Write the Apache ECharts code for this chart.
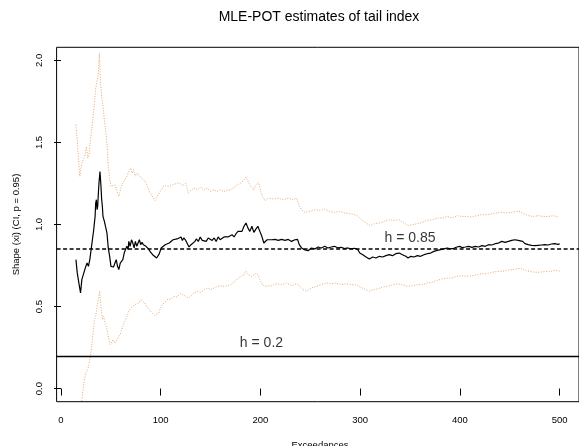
<!DOCTYPE html>
<html>
<head>
<meta charset="utf-8">
<script src="https://cdn.jsdelivr.net/npm/echarts@6/dist/echarts.min.js"></script>
<style>html,body{margin:0;padding:0;background:#fff;}#c{width:579px;height:446px;}</style>
</head>
<body>
<div id="c"></div>
<script>
// ---- data ----
const estX = [15,16.3,18.2,19.6,20.9,22.9,24.9,26.2,27.5,28.9,30.2,31.5,32.8,34.2,34.8,35.5,36.2,36.8,37.5,38.1,39.1,40.1,40.8,41.5,42.1,43.5,44.8,46.1,47.4,48.8,50.1,51.4,52.7,54.1,55.4,56.7,58.0,59.4,60.7,62.0,63.4,64.7,66.0,67.3,68.0,69.3,70.7,72.0,73.3,74.6,76.0,77.3,78.6,79.9,81.3,82.6,83.9,85.2,86.6,87.9,89.2,90.6,91.9,93.9,95.9,97.2,98.5,100.5,102.5,104.5,106.5,108.5,110.4,112.4,114.4,116.4,118.4,120.4,121.7,123.1,125.1,127.1,128.4,130.4,132.3,134.3,135.7,137.7,139.6,141.6,143.6,145.6,147.6,149.6,151.6,153.6,155.6,157.6,159.6,161.6,163.5,165.5,167.5,169.5,171.5,173.5,175.5,177.5,179.5,181.5,183.5,185.5,187.5,189.4,191.4,193.4,195.4,197.4,199.4,201.4,203.4,204.7,206.7,208.0,211.3,214.6,217.9,221.2,224.6,227.9,231.2,234.5,237.2,238.9,241.2,243.8,247.8,251.1,254.4,257.8,261.1,264.4,267.7,271.0,274.3,277.7,281.0,284.3,287.6,290.9,294.3,297.6,299.6,302.6,305.9,309.2,312.5,315.8,319.2,322.5,325.8,329.1,332.4,335.7,339.1,342.4,345.7,348.0,350.7,354.0,357.3,360.6,364.0,367.3,370.6,373.9,377.2,380.6,383.9,387.2,390.5,393.8,397.1,399.8,402.1,405.5,408.8,412.1,415.4,418.7,422.1,425.4,428.7,432.0,435.3,438.6,442.0,445.3,448.6,451.9,455.2,458.5,460.2,462.9,465.2,468.5,471.8,475.1,478.5,481.8,485.1,488.4,491.7,495.0,498.4,500];
const estY = [0.786,0.705,0.633,0.583,0.664,0.705,0.745,0.765,0.745,0.786,0.847,0.907,0.968,1.049,1.131,1.151,1.090,1.110,1.192,1.253,1.323,1.232,1.151,1.110,1.049,1.019,1.009,0.948,0.857,0.806,0.745,0.755,0.741,0.765,0.786,0.745,0.725,0.765,0.775,0.786,0.826,0.847,0.867,0.847,0.897,0.867,0.907,0.887,0.857,0.897,0.867,0.887,0.907,0.877,0.891,0.877,0.887,0.867,0.867,0.851,0.836,0.826,0.816,0.806,0.796,0.806,0.821,0.857,0.867,0.877,0.871,0.887,0.897,0.907,0.897,0.912,0.903,0.924,0.903,0.918,0.903,0.907,0.863,0.877,0.887,0.897,0.912,0.897,0.924,0.903,0.912,0.897,0.918,0.924,0.903,0.918,0.897,0.924,0.907,0.916,0.924,0.918,0.924,0.918,0.938,0.924,0.944,0.958,0.968,0.958,0.989,1.009,0.978,0.958,0.989,0.952,0.972,0.989,0.958,0.928,0.887,0.883,0.907,0.903,0.907,0.909,0.903,0.909,0.903,0.909,0.897,0.907,0.909,0.877,0.857,0.847,0.840,0.857,0.851,0.863,0.857,0.867,0.857,0.863,0.867,0.857,0.861,0.853,0.857,0.851,0.855,0.847,0.826,0.816,0.802,0.790,0.802,0.796,0.806,0.802,0.810,0.816,0.810,0.822,0.826,0.816,0.806,0.796,0.806,0.802,0.810,0.806,0.816,0.822,0.826,0.836,0.842,0.847,0.851,0.857,0.851,0.855,0.863,0.867,0.859,0.863,0.867,0.861,0.867,0.863,0.871,0.867,0.877,0.875,0.883,0.887,0.897,0.891,0.897,0.903,0.907,0.903,0.907,0.897,0.883,0.877,0.873,0.871,0.873,0.875,0.877,0.875,0.881,0.883,0.879,0.882];

const upX = [15,16.3,17.6,18.9,20.2,22.2,24.2,25.5,26.9,28.2,29.5,30.8,32.2,33.5,34.8,36.2,37.5,38.5,39.5,40.8,42.1,43.5,44.8,46.1,47.4,48.8,50.1,52.1,54.1,56.1,58.0,60.0,62.0,64.0,66.0,68.0,70.0,71.3,72.6,74.6,76.6,78.6,80.6,82.6,84.6,86.6,88.6,90.6,92.5,94.5,96.5,98.5,100.5,102.5,105.1,108.5,111.8,115.1,118.4,121.7,125.1,127.7,130.4,133.3,136.7,140.0,143.3,146.6,149.9,153.3,156.6,159.9,163.2,166.5,169.9,173.2,176.5,179.8,183.1,185.5,188.1,190.7,193.1,195.4,198.0,200.0,202.0,204.6,208.0,213.0,217.9,222.9,227.9,232.8,236.2,238.5,241.2,244.5,249.4,254.4,259.4,264.4,269.4,274.3,279.3,284.3,289.3,294.3,298.2,301.5,305.9,310.2,314.2,319.2,324.2,329.1,334.1,339.1,344.1,348.0,352.4,357.3,362.3,367.3,372.3,377.2,382.2,387.2,392.2,397.1,402.1,407.1,412.1,417.1,422.1,427.1,432.0,437.0,442.0,447.0,451.9,456.9,460.2,463.5,468.5,473.5,478.5,483.4,488.4,493.4,498.4];
const upY = [1.608,1.516,1.395,1.293,1.354,1.395,1.425,1.476,1.405,1.425,1.516,1.577,1.659,1.740,1.831,1.821,1.923,2.044,1.882,1.780,1.719,1.638,1.577,1.496,1.354,1.273,1.232,1.232,1.242,1.202,1.171,1.222,1.253,1.273,1.293,1.323,1.344,1.313,1.334,1.293,1.313,1.303,1.283,1.293,1.263,1.232,1.202,1.181,1.161,1.147,1.171,1.192,1.212,1.232,1.236,1.232,1.242,1.248,1.256,1.236,1.252,1.192,1.208,1.222,1.212,1.228,1.208,1.222,1.202,1.212,1.202,1.212,1.202,1.208,1.212,1.222,1.242,1.252,1.269,1.289,1.256,1.232,1.212,1.242,1.256,1.212,1.171,1.146,1.161,1.155,1.161,1.151,1.161,1.151,1.161,1.121,1.090,1.074,1.080,1.090,1.086,1.094,1.080,1.074,1.080,1.070,1.066,1.060,1.049,1.029,1.009,0.993,1.005,1.009,1.019,1.029,1.025,1.029,1.009,0.993,0.999,1.005,1.013,1.025,1.029,1.039,1.039,1.049,1.039,1.054,1.049,1.049,1.045,1.054,1.060,1.060,1.066,1.070,1.074,1.070,1.074,1.080,1.080,1.066,1.054,1.049,1.054,1.049,1.049,1.054,1.045];

const loX = [15,17.6,19.6,20.9,22.9,24.9,26.9,28.9,30.8,32.2,33.5,34.8,36.2,37.5,38.8,40.1,41.5,42.8,44.1,45.4,46.8,48.1,49.4,50.7,52.1,54.1,56.1,58.0,60.0,62.0,64.0,66.0,68.0,70.0,72.0,74.0,76.0,78.0,79.9,81.9,83.9,85.9,87.9,89.9,91.9,93.9,95.9,97.8,99.8,101.8,103.2,106.5,109.8,113.1,116.4,119.8,122.4,125.1,127.7,130.4,133.6,137.0,140.3,143.6,146.9,150.2,153.6,156.9,160.2,163.5,166.8,170.2,173.5,176.8,180.1,183.4,185.5,188.1,190.7,193.4,196.0,198.0,200.0,202.0,204.6,211.3,216.3,221.2,226.2,231.2,236.2,239.5,242.8,246.1,251.1,256.1,261.1,266.1,271.0,276.0,281.0,286.0,291.0,296.0,299.9,304.3,309.2,312.5,317.5,322.5,327.5,332.4,337.4,342.4,347.4,352.4,357.3,362.3,367.3,372.3,377.2,382.2,387.2,392.2,397.1,402.1,407.1,412.1,417.1,422.1,427.1,432.0,437.0,442.0,447.0,452.0,456.9,461.2,465.2,470.2,475.1,480.1,485.1,490.1,495.1,500.0];
const loY = [-0.2,-0.2,-0.13,-0.067,0.035,0.096,0.116,0.177,0.258,0.339,0.420,0.440,0.501,0.542,0.593,0.501,0.420,0.440,0.400,0.380,0.339,0.298,0.268,0.278,0.298,0.278,0.298,0.288,0.339,0.380,0.410,0.440,0.471,0.491,0.481,0.512,0.501,0.522,0.542,0.532,0.522,0.501,0.491,0.471,0.461,0.445,0.437,0.461,0.491,0.512,0.522,0.542,0.546,0.562,0.558,0.579,0.573,0.562,0.552,0.566,0.583,0.593,0.587,0.603,0.613,0.603,0.613,0.623,0.627,0.623,0.627,0.633,0.648,0.668,0.684,0.694,0.715,0.694,0.680,0.694,0.704,0.688,0.654,0.633,0.623,0.627,0.639,0.633,0.644,0.627,0.639,0.623,0.603,0.593,0.613,0.623,0.633,0.644,0.639,0.644,0.633,0.639,0.633,0.633,0.619,0.607,0.593,0.603,0.607,0.619,0.623,0.633,0.639,0.633,0.623,0.627,0.633,0.633,0.644,0.648,0.660,0.668,0.674,0.674,0.684,0.688,0.684,0.688,0.694,0.700,0.700,0.709,0.714,0.714,0.721,0.725,0.729,0.735,0.721,0.714,0.709,0.709,0.714,0.712,0.721,0.716];

const hLines = [0.85, 0.2];
const hLabels = ['h = 0.85', 'h = 0.2'];
const xTicks = [0, 100, 200, 300, 400, 500];
const yTicks = [0, 0.5, 1, 1.5, 2];
const yTickLabels = ['0.0', '0.5', '1.0', '1.5', '2.0'];

const titleText = 'MLE-POT estimates of tail index';
const xName = 'Exceedances';
const yName = 'Shape (xi) (CI, p = 0.95)';

// ---- chart ----
const zip = (xs, ys) => xs.map((x, i) => [x, ys[i]]);
const FONT = 'Liberation Sans, Arial, Helvetica, sans-serif';
const ORANGE = '#e9a66c';

const chart = echarts.init(document.getElementById('c'), null, {renderer: 'canvas'});
chart.setOption({
  animation: false,
  backgroundColor: '#ffffff',
  grid: {
    left: 56.6, right: -4, top: 47.3, bottom: 44.3,
    show: true, borderColor: '#000', borderWidth: 1, backgroundColor: 'transparent'
  },
  xAxis: {
    type: 'value', min: -4.4, max: 519.4,
    axisLine: {show: false},
    splitLine: {show: false},
    axisTick: {show: true, inside: false, length: 7, customValues: xTicks, lineStyle: {color: '#000', width: 1}},
    axisLabel: {show: true, customValues: xTicks, margin: 14, color: '#000', fontSize: 9.5, fontFamily: FONT}
  },
  yAxis: {
    type: 'value', min: -0.08, max: 2.08,
    axisLine: {show: false},
    splitLine: {show: false},
    axisTick: {show: true, inside: false, length: 7, customValues: yTicks, lineStyle: {color: '#000', width: 1}},
    axisLabel: {
      show: true, customValues: yTicks, rotate: 90, margin: 12, color: '#000', fontSize: 9.5, fontFamily: FONT,
      formatter: v => { const i = yTicks.indexOf(v); return i >= 0 ? yTickLabels[i] : ''; }
    }
  },
  graphic: [
    {type: 'text', x: 319, y: 17, style: {text: titleText, fill: '#000', font: '14px ' + FONT, align: 'center', verticalAlign: 'middle'}},
    {type: 'text', x: 320, y: 445, style: {text: xName, fill: '#000', font: '9.5px ' + FONT, align: 'center', verticalAlign: 'middle'}},
    {type: 'text', x: 16.5, y: 224.5, rotation: Math.PI / 2, style: {text: yName, fill: '#000', font: '9.5px ' + FONT, align: 'center', verticalAlign: 'middle'}}
  ],
  series: [
    {
      type: 'line', data: zip(upX, upY), symbol: 'none', clip: true,
      lineStyle: {color: ORANGE, width: 1, type: [1, 1.6]}
    },
    {
      type: 'line', data: zip(loX, loY), symbol: 'none', clip: true,
      lineStyle: {color: ORANGE, width: 1, type: [1, 1.6]}
    },
    {
      type: 'line', data: zip(estX, estY), symbol: 'none', clip: true,
      lineStyle: {color: '#000', width: 1.2},
      markLine: {
        silent: true, symbol: 'none', label: {show: false},
        data: [
          {yAxis: hLines[0], lineStyle: {color: '#000', width: 1.5, type: [4, 2.5]}},
          {yAxis: hLines[1], lineStyle: {color: '#000', width: 1.3, type: 'solid'}}
        ]
      }
    },
    {
      type: 'scatter', symbolSize: 0, silent: true,
      data: [
        {value: [350, hLines[0] + 0.066], label: {formatter: hLabels[0]}},
        {value: [201, hLines[1] + 0.075], label: {formatter: hLabels[1]}}
      ],
      label: {show: true, position: 'inside', color: '#000', fontSize: 14, fontFamily: FONT}
    }
  ]
});
</script>
</body>
</html>
